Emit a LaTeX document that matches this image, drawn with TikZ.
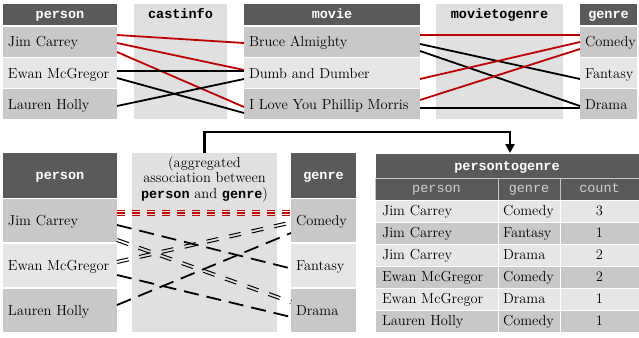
\documentclass[tikz,border=0pt]{standalone}
\usepackage{fontspec}
\newfontfamily\monof{Liberation Mono}
\usetikzlibrary{calc,arrows.meta}
\definecolor{hdr}{HTML}{5A5A5A}
\definecolor{rdark}{HTML}{C8C8C8}
\definecolor{rlight}{HTML}{E6E6E6}
\definecolor{boxg}{HTML}{E0E0E0}
\definecolor{lred}{HTML}{C00000}
\definecolor{subgray}{HTML}{D0D0D0}
\tikzset{
  box/.style={rectangle, inner sep=0pt, outer sep=0pt, anchor=north west},
  txt/.style={inner sep=0pt, outer sep=0pt, anchor=base west, font=\fontsize{14.5}{15.7}\selectfont},
  ctxt/.style={txt, anchor=base},
  hdrtxt/.style={inner sep=0pt, outer sep=0pt, anchor=base, text=white, font=\fontsize{13.5}{15}\selectfont\monof\bfseries},
  lbltxt/.style={hdrtxt, text=black},
  subtxt/.style={inner sep=0pt, outer sep=0pt, anchor=base, text=subgray, font=\fontsize{13.5}{15}\selectfont\monof},
  conn/.style={line width=1.8pt},
  redconn/.style={conn, draw=lred},
  blkconn/.style={conn, draw=black},
  sdash/.style={line width=1.8pt, dash pattern=on 15pt off 8pt},
  ddash/.style={line width=1pt, dash pattern=on 12pt off 11pt},
  rdash/.style={line width=1.3pt, draw=lred, dash pattern=on 8pt off 7pt},
  flow/.style={line width=2.2pt, -{Triangle[length=9pt,width=9pt]}},
  tcell/.style={box, draw=white, line width=0.8pt, minimum height=22},
}
\newcommand\rowcell[7]{%
  \node[box, fill=#6, minimum width=#4, minimum height=#5] (#1) at (#2,#3) {};
  \node[txt] (#1t) at ([xshift=5pt,yshift=-5pt]#1.west) {#7};}
\newcommand\hcell[7]{%
  \node[box, fill=hdr, minimum width=#4, minimum height=#5] (#1) at (#2,#3) {};
  \node[hdrtxt] (#1t) at ([yshift=-#6pt]#1.center) {#7};}
\begin{document}
\begin{tikzpicture}[x=1pt,y=-1pt]
\useasboundingbox (0,0) rectangle (639,337);
% ---------- top row ----------
\hcell{p1h}{3}{4}{114}{21}{4}{person}
\rowcell{jim1}{3}{27}{114}{30}{rdark}{Jim Carrey}
\rowcell{ewan1}{3}{58}{114}{30}{rlight}{Ewan McGregor}
\rowcell{lau1}{3}{89}{114}{30}{rdark}{Lauren Holly}
\node[box, fill=boxg, minimum width=93, minimum height=115] (cast) at (134,4) {};
\node[lbltxt] (castt) at ([yshift=-14.5pt]cast.north) {castinfo};
\hcell{mvh}{244}{4}{176}{21}{4}{movie}
\rowcell{bruce}{244}{27}{176}{30}{rdark}{Bruce Almighty}
\rowcell{dumb}{244}{58}{176}{30}{rlight}{Dumb and Dumber}
\rowcell{ilove}{244}{89}{176}{30}{rdark}{I Love You Phillip Morris}
\node[box, fill=boxg, minimum width=127, minimum height=115] (mtg) at (436,4) {};
\node[lbltxt] (mtgt) at ([yshift=-14.5pt]mtg.north) {movietogenre};
\hcell{g1h}{580}{4}{57}{21}{4}{genre}
\rowcell{com1}{580}{27}{57}{30}{rdark}{Comedy}
\rowcell{fan1}{580}{58}{57}{30}{rlight}{Fantasy}
\rowcell{dra1}{580}{89}{57}{30}{rdark}{Drama}
% person -> movie
\draw[redconn] ([yshift=7pt]jim1.east) -- ([yshift=-1pt]bruce.west);
\draw[redconn] ([yshift=-1pt]jim1.east) -- ([yshift=3pt]dumb.west);
\draw[redconn] ([yshift=-10pt]jim1.east) -- ([yshift=-3pt]ilove.west);
\draw[blkconn] ([yshift=2pt]ewan1.east) -- ([yshift=2pt]dumb.west);
\draw[blkconn] ([yshift=-5pt]ewan1.east) -- ([yshift=-9pt]ilove.west);
\draw[blkconn] ([yshift=-2pt]lau1.east) -- ([yshift=-6pt]dumb.west);
% movie -> genre
\draw[redconn] ([yshift=7pt]bruce.east) -- ([yshift=7pt]com1.west);
\draw[blkconn] ([yshift=-2pt]bruce.east) -- ([yshift=-6pt]fan1.west);
\draw[blkconn] ([yshift=-9pt]bruce.east) -- ([yshift=-2pt]dra1.west);
\draw[redconn] ([yshift=-6pt]dumb.east) -- ([yshift=0pt]com1.west);
\draw[redconn] ([yshift=4pt]ilove.east) -- ([yshift=-7pt]com1.west);
\draw[blkconn] ([yshift=-4pt]ilove.east) -- ([yshift=-4pt]dra1.west);
% ---------- bottom left ----------
\hcell{p2h}{3}{153}{114}{44.5}{4}{person}
\rowcell{jim2}{3}{199}{114}{43}{rdark}{Jim Carrey}
\rowcell{ewan2}{3}{244}{114}{43}{rlight}{Ewan McGregor}
\rowcell{lau2}{3}{289}{114}{43}{rdark}{Lauren Holly}
\node[box, fill=boxg, minimum width=145, minimum height=179] (agg) at (132,153) {};
\node[ctxt] (agg1) at (204.5,167) {(aggregated};
\node[ctxt] (agg2) at (204.5,182.7) {association between};
\node[ctxt] (agg3) at (204.5,198.4) {{\monof\bfseries\fontsize{13.5}{15}\selectfont person} and {\monof\bfseries\fontsize{13.5}{15}\selectfont genre})};
\hcell{g2h}{291}{153}{65}{44.5}{4}{genre}
\rowcell{com2}{291}{199}{65}{43}{rdark}{Comedy}
\rowcell{fan2}{291}{244}{65}{43}{rlight}{Fantasy}
\rowcell{dra2}{291}{289}{65}{43}{rdark}{Drama}
% aggregated connectors
\foreach \s in {10.2,7.5,4.8}
  \draw[rdash] ([yshift=\s pt]jim2.east) -- ([yshift=\s pt]com2.west);
\draw[sdash] ([yshift=-4.5pt]jim2.east) -- ([yshift=-3pt]fan2.west);
\draw[sdash] ([yshift=-9.5pt]ewan2.east) -- ([yshift=-6.5pt]dra2.west);
\draw[sdash] ([yshift=5.5pt]lau2.east) -- ([yshift=-12.5pt]com2.west);
\coordinate (jdA) at ([yshift=-19.5pt]jim2.east);
\coordinate (jdB) at ([yshift=8.5pt]dra2.west);
\coordinate (ecA) at ([yshift=3.5pt]ewan2.east);
\coordinate (ecB) at ([yshift=-2pt]com2.west);
\foreach \a in {90,-90}{
  \draw[ddash] ($(jdA)!1.5pt!\a:(jdB)$) -- ($(jdB)!1.5pt!-\a:(jdA)$);
  \draw[ddash] ($(ecA)!1.5pt!\a:(ecB)$) -- ($(ecB)!1.5pt!-\a:(ecA)$);
}
% ---------- persontogenre table ----------
\node[box, fill=hdr, draw=white, line width=0.8pt, minimum width=264, minimum height=25] (ptg) at (375,153) {};
\node[hdrtxt] (ptgt) at ([yshift=-4.5pt]ptg.center) {persontogenre};
\node[tcell, fill=hdr, draw=gray!45, minimum width=123] (sh1) at (375,178) {};
\node[tcell, fill=hdr, draw=gray!45, minimum width=62] (sh2) at (498,178) {};
\node[tcell, fill=hdr, draw=gray!45, minimum width=79] (sh3) at (560,178) {};
\node[subtxt] (sh1t) at ([yshift=-3.5pt]sh1.center) {person};
\node[subtxt] (sh2t) at ([yshift=-3.5pt]sh2.center) {genre};
\node[subtxt] (sh3t) at ([yshift=-3.5pt]sh3.center) {count};
\foreach \i/\p/\g/\c/\f in {1/Jim Carrey/Comedy/3/rlight,2/Jim Carrey/Fantasy/1/rdark,3/Jim Carrey/Drama/2/rlight,4/Ewan McGregor/Comedy/2/rdark,5/Ewan McGregor/Drama/1/rlight,6/Lauren Holly/Comedy/1/rdark}{
  \pgfmathsetmacro\yy{200+(\i-1)*22}
  \node[tcell, fill=\f, minimum width=123] (r\i a) at (375,\yy) {};
  \node[tcell, fill=\f, minimum width=62] (r\i b) at (498,\yy) {};
  \node[tcell, fill=\f, minimum width=79] (r\i c) at (560,\yy) {};
  \node[txt] (r\i at) at ([xshift=7pt,yshift=-4.9pt]r\i a.west) {\p};
  \node[txt] (r\i bt) at ([xshift=5pt,yshift=-4.9pt]r\i b.west) {\g};
  \node[ctxt] (r\i ct) at ([yshift=-4.9pt]r\i c.center) {\c};
}
% ---------- flow arrow ----------
\draw[flow] (agg.north) -- ++(0,-21) -| ([xshift=3pt]ptg.north);
\end{tikzpicture}
\end{document}
